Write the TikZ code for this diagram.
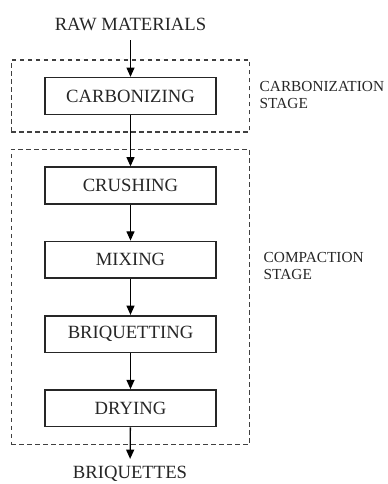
\documentclass[tikz,border=0pt]{standalone}
\usepackage{fontspec}
\setmainfont{Liberation Serif}
\usepackage{tikz}
\usetikzlibrary{positioning}
\usetikzlibrary{arrows.meta}
\usetikzlibrary{fit}

\begin{document}
\begin{tikzpicture}[x=0.75pt,y=0.75pt,
        >={Triangle[length=7pt,width=6pt]},
        node distance=27pt,
        step box/.style={
        draw=black!85,
        line width=1.2pt,
        minimum width=128pt,
        minimum height=27.5pt,
        inner sep=0pt,
        text=black!85,
        font=\fontsize{14}{16}\selectfont},
        ends/.style={
        text=black!85,
        font=\fontsize{14}{16}\selectfont},
        stage/.style={
        draw=black!75,
        dashed,
        dash pattern=on 3.5pt off 2.5pt,
        line width=1.1pt,
        inner xsep=24.75pt,
        inner ysep=12.75pt},
        stagelabel/.style={
        anchor=west,
        align=left,
        text=black!85,
        font=\fontsize{11.5}{12.5}\selectfont}]

        \useasboundingbox (0,0) rectangle (387,-484);

        \node[ends] (raw) at (130.5,-24) {RAW MATERIALS};
        \node[step box] (carb) at (130.5,-96) {CARBONIZING};
        \node[step box] (crush) at (130.5,-185.5) {CRUSHING};
        \node[step box] (mix)   [below=of crush] {MIXING};
        \node[step box] (briq)  [below=of mix] {BRIQUETTING};
        \node[step box] (dry)   [below=of briq] {DRYING};
        \node[ends] (prod) at (130,-474) {BRIQUETTES};

        % stage frames
        \node[stage, fit=(carb)] (carbstage) {};
        \node[stage, fit=(crush) (dry)] (compstage) {};
        \node[stagelabel] (carblabel) at (255,-95) {CARBONIZATION\\STAGE};
        \node[stagelabel] (complabel) at (259,-266) {COMPACTION\\STAGE};

        % flow
        \draw[->, line width=1pt, shorten <=4pt] (raw) -- (carb);
        \draw[->, line width=1pt] (carb) -- (crush);
        \draw[->, line width=1pt] (crush) -- (mix);
        \draw[->, line width=1pt] (mix) -- (briq);
        \draw[->, line width=1pt] (briq) -- (dry);
        \draw[->, line width=1pt, shorten >=2pt] (dry) -- (prod);
\end{tikzpicture}
\end{document}
